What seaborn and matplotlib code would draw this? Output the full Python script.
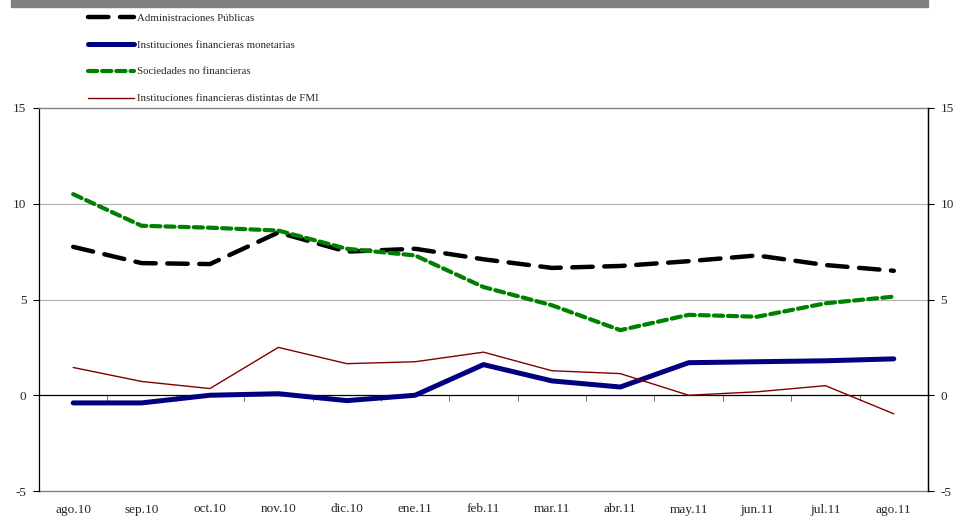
import matplotlib
matplotlib.use("Agg")
import matplotlib.pyplot as plt
import pandas as pd
import seaborn as sns
from matplotlib.patches import Rectangle

# ===============================
# Datos
# ===============================
meses = ["ago.10", "sep.10", "oct.10", "nov.10", "dic.10", "ene.11", "feb.11",
         "mar.11", "abr.11", "may.11", "jun.11", "jul.11", "ago.11"]

admin_publicas = [7.75, 6.9, 6.85, 8.5, 7.5, 7.65, 7.1, 6.65, 6.75, 7.0, 7.3, 6.8, 6.5]
ifm = [-0.4, -0.4, 0.0, 0.08, -0.28, 0.0, 1.6, 0.75, 0.43, 1.7, 1.75, 1.8, 1.9]
soc_no_fin = [10.5, 8.85, 8.75, 8.6, 7.65, 7.3, 5.65, 4.7, 3.4, 4.2, 4.1, 4.8, 5.15]
if_no_fmi = [1.45, 0.72, 0.35, 2.5, 1.65, 1.75, 2.25, 1.28, 1.13, 0.0, 0.18, 0.5, -0.97]

y_ticks = [-5, 0, 5, 10, 15]

df = pd.DataFrame({"mes": meses, "ap": admin_publicas, "ifm": ifm,
                   "snf": soc_no_fin, "ifo": if_no_fmi})

# ===============================
# Figura
# ===============================
sns.set_theme(style="white")
plt.rcParams["font.family"] = ["Liberation Serif", "DejaVu Serif"]

fig = plt.figure(figsize=(9.55, 5.19), dpi=100)
ax = fig.add_axes([39 / 955, 28 / 519, 889 / 955, 383 / 519])

# barra gris superior
fig.patches.append(Rectangle((11 / 955, 512 / 519), 917 / 955, 7 / 519,
                             transform=fig.transFigure, color="#808080", zorder=0))

x = list(range(len(meses)))

sns.lineplot(x=x, y=df["ap"], ax=ax, color="black", lw=3.2,
             label="Administraciones Públicas")
ax.lines[-1].set_dashes((4.6, 2.6))
ax.lines[-1].set_dash_capstyle("round")

sns.lineplot(x=x, y=df["ifm"], ax=ax, color="#000080", lw=3.6,
             label="Instituciones financieras monetarias")
ax.lines[-1].set_solid_capstyle("round")

sns.lineplot(x=x, y=df["snf"], ax=ax, color="#008000", lw=3.0,
             label="Sociedades no financieras")
ax.lines[-1].set_dashes((2.2, 1.2))
ax.lines[-1].set_dash_capstyle("round")

sns.lineplot(x=x, y=df["ifo"], ax=ax, color="#800000", lw=1.0,
             label="Instituciones financieras distintas de FMI")

ax.set_xlim(-0.5, len(meses) - 0.5)
ax.set_ylim(-5, 15)
ax.set_xlabel("")
ax.set_ylabel("")

# rejilla
for v in [5, 10]:
    ax.axhline(v, color="#b4b4b4", lw=0.8, zorder=0)
ax.axhline(0, color="black", lw=0.9, zorder=1)

ax.set_yticks(y_ticks)
ax.set_yticklabels([str(v) for v in y_ticks])
ax.tick_params(axis="y", direction="out", length=4, width=0.8, color="black",
               labelsize=9.5, pad=5, left=True)

# eje x: marcas en el cero, etiquetas abajo
ax.set_xticks([i + 0.5 for i in x[:-1]])
ax.tick_params(axis="x", direction="out", length=4, width=0.6, color="#555555",
               labelbottom=False, bottom=True)
ax.spines["bottom"].set_position(("data", 0))
ax.spines["bottom"].set_visible(False)

sec = ax.secondary_xaxis(0.0)
sec.set_xticks(x)
sec.set_xticklabels(meses)
sec.tick_params(length=0, labelsize=9.5, pad=9)
sec.spines["bottom"].set_color("#808080")
sec.spines["bottom"].set_linewidth(1.0)

ax.spines["top"].set_color("#808080")
ax.spines["top"].set_linewidth(1.0)
ax.spines["left"].set_color("black")
ax.spines["left"].set_linewidth(0.9)
ax.spines["right"].set_color("black")
ax.spines["right"].set_linewidth(0.9)

ax2 = ax.twinx()
ax2.set_ylim(-5, 15)
ax2.set_yticks(y_ticks)
ax2.set_yticklabels([str(v) for v in y_ticks])
ax2.tick_params(axis="y", direction="out", length=4, width=0.8, color="black",
                labelsize=9.5, pad=5, right=True)
for s in ["top", "bottom", "left"]:
    ax2.spines[s].set_visible(False)
ax2.spines["right"].set_color("black")
ax2.spines["right"].set_linewidth(0.9)
ax2.grid(False)

# leyenda
handles, labels = ax.get_legend_handles_labels()
ax.get_legend().remove()
fig.legend(handles, labels, loc="upper left",
           bbox_to_anchor=(88 / 955, 1 - 13 / 519), frameon=False,
           fontsize=7.8, handlelength=4.2, handletextpad=0.35,
           labelspacing=1.6, borderaxespad=0, borderpad=0)

fig.savefig("out.png", dpi=100)
